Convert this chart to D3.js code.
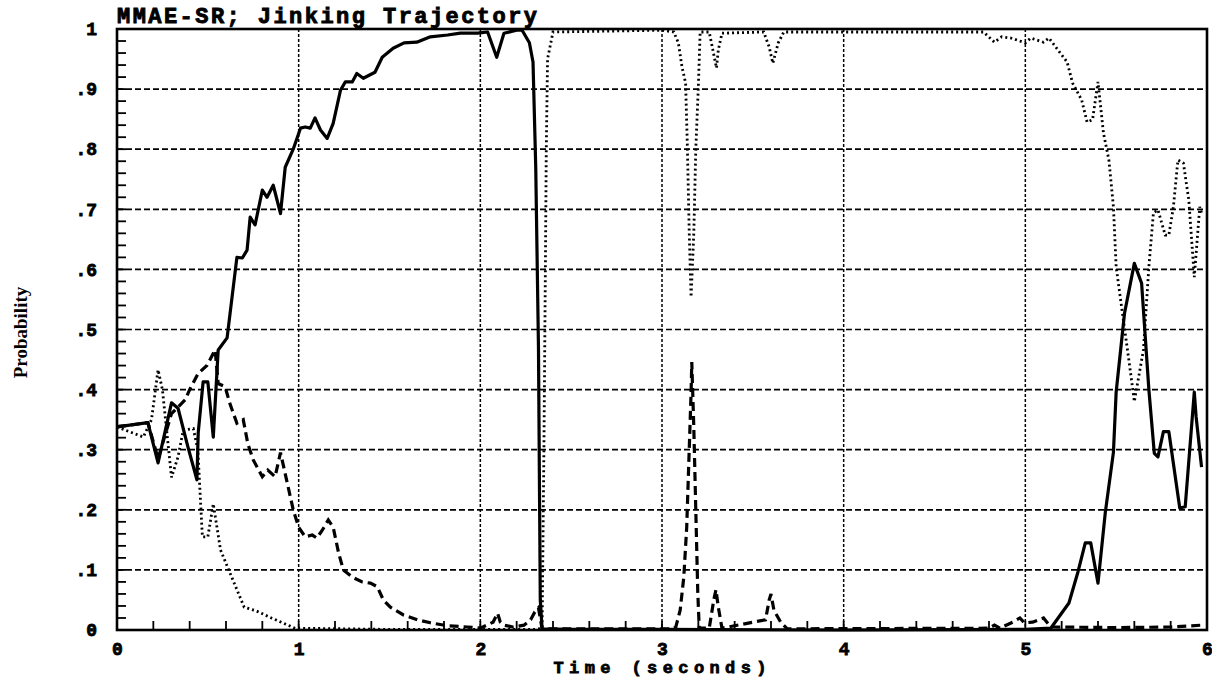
<!DOCTYPE html>
<html>
<head>
<meta charset="utf-8">
<script src="https://cdn.jsdelivr.net/npm/d3@7"></script>
<style>
body{margin:0;background:#fff;}
</style>
</head>
<body>
<div class="canvas"></div>
<script>
// [time, probability] pairs
const solidSeries=[[0,0.338],[0.17,0.345],[0.226,0.278],[0.30,0.378],[0.336,0.369],[0.39,0.305],[0.44,0.25],[0.447,0.328],[0.474,0.413],[0.50,0.413],[0.53,0.321],[0.557,0.466],[0.606,0.486],[0.66,0.62],[0.69,0.619],[0.716,0.632],[0.733,0.687],[0.76,0.674],[0.80,0.732],[0.826,0.72],[0.86,0.74],[0.90,0.693],[0.926,0.77],[0.97,0.80],[1.01,0.835],[1.036,0.837],[1.064,0.835],[1.09,0.852],[1.12,0.832],[1.157,0.818],[1.19,0.843],[1.23,0.898],[1.257,0.912],[1.295,0.912],[1.32,0.926],[1.356,0.918],[1.42,0.928],[1.46,0.953],[1.52,0.968],[1.58,0.977],[1.65,0.978],[1.725,0.987],[1.82,0.99],[1.89,0.993],[1.985,0.993],[2.04,0.995],[2.09,0.953],[2.13,0.993],[2.2,0.998],[2.23,0.998],[2.27,0.977],[2.29,0.945],[2.305,0.77],[2.32,0.47],[2.33,0.05],[2.34,0.002],[2.5,0.001],[3,0.001],[4,0],[5,0.001],[5.14,0.003],[5.24,0.045],[5.29,0.097],[5.33,0.145],[5.36,0.145],[5.40,0.078],[5.44,0.195],[5.485,0.296],[5.50,0.396],[5.546,0.527],[5.60,0.61],[5.64,0.577],[5.68,0.40],[5.71,0.294],[5.73,0.288],[5.76,0.33],[5.79,0.33],[5.85,0.203],[5.88,0.205],[5.93,0.396],[5.94,0.355],[5.97,0.271]];

const dashedSeries=[[0,0.338],[0.17,0.345],[0.226,0.285],[0.30,0.36],[0.375,0.383],[0.40,0.40],[0.447,0.427],[0.495,0.44],[0.54,0.466],[0.557,0.41],[0.595,0.405],[0.62,0.378],[0.66,0.344],[0.695,0.35],[0.72,0.31],[0.75,0.283],[0.80,0.255],[0.83,0.266],[0.87,0.255],[0.90,0.295],[0.937,0.245],[0.97,0.20],[1.0,0.171],[1.036,0.155],[1.075,0.158],[1.10,0.153],[1.13,0.166],[1.163,0.183],[1.19,0.171],[1.22,0.128],[1.246,0.10],[1.295,0.088],[1.35,0.08],[1.395,0.078],[1.433,0.072],[1.466,0.05],[1.505,0.038],[1.577,0.025],[1.654,0.017],[1.725,0.012],[1.82,0.007],[1.93,0.005],[2.0,0.003],[2.07,0.013],[2.095,0.028],[2.11,0.013],[2.13,0.008],[2.18,0.005],[2.24,0.008],[2.277,0.017],[2.30,0.03],[2.32,0.037],[2.34,0.002],[3.06,0.002],[3.076,0.005],[3.10,0.033],[3.12,0.088],[3.136,0.171],[3.148,0.283],[3.16,0.394],[3.164,0.446],[3.175,0.338],[3.186,0.20],[3.197,0.062],[3.205,0.003],[3.26,0.003],[3.285,0.05],[3.297,0.067],[3.31,0.038],[3.33,0.003],[3.57,0.017],[3.59,0.05],[3.60,0.06],[3.616,0.033],[3.655,0.012],[3.69,0.002],[4.80,0.003],[4.83,0.008],[4.86,0.003],[4.93,0.013],[4.97,0.02],[4.995,0.012],[5.04,0.013],[5.10,0.02],[5.14,0.005],[5.5,0.004],[5.8,0.005],[5.97,0.008]];

const dottedSeries=[[0,0.338],[0.145,0.321],[0.19,0.35],[0.226,0.433],[0.25,0.40],[0.30,0.254],[0.336,0.288],[0.365,0.333],[0.42,0.335],[0.445,0.30],[0.47,0.155],[0.50,0.155],[0.53,0.21],[0.57,0.133],[0.615,0.10],[0.70,0.038],[0.765,0.032],[0.85,0.02],[0.98,0.003],[1.5,0.001],[2.3,0.001],[2.34,0.003],[2.35,0.3],[2.358,0.6],[2.363,0.8],[2.37,0.95],[2.40,0.995],[3.0,0.998],[3.065,0.995],[3.09,0.977],[3.11,0.937],[3.13,0.91],[3.14,0.8],[3.15,0.66],[3.16,0.554],[3.175,0.66],[3.186,0.80],[3.20,0.904],[3.21,0.995],[3.26,0.995],[3.28,0.965],[3.30,0.935],[3.31,0.965],[3.33,0.993],[3.56,0.995],[3.59,0.97],[3.61,0.943],[3.64,0.977],[3.67,0.995],[4.77,0.995],[4.83,0.978],[4.87,0.987],[4.92,0.985],[5.0,0.977],[5.03,0.985],[5.10,0.978],[5.13,0.985],[5.18,0.965],[5.23,0.945],[5.26,0.91],[5.31,0.882],[5.34,0.845],[5.37,0.849],[5.40,0.912],[5.43,0.827],[5.46,0.782],[5.485,0.704],[5.50,0.604],[5.53,0.537],[5.57,0.449],[5.60,0.38],[5.65,0.466],[5.68,0.604],[5.705,0.694],[5.73,0.699],[5.77,0.657],[5.79,0.657],[5.815,0.704],[5.84,0.782],[5.87,0.777],[5.90,0.715],[5.93,0.587],[5.96,0.704],[5.97,0.694]];

const xTicks=[0,1,2,3,4,5,6];
const yTicks=[0,0.1,0.2,0.3,0.4,0.5,0.6,0.7,0.8,0.9,1];
const yTickLabels=['0','.1','.2','.3','.4','.5','.6','.7','.8','.9','1'];

const svg=d3.select('.canvas').append('svg')
.attr("width",1212)
.attr('height',679);

const margin={left:117,top:29,right:5,bottom:49};
const graphWidth=1212-margin.left-margin.right;
const graphHeight=679-margin.top-margin.bottom;

const graph=svg.append('g')
.attr("transform",`translate(${margin.left},${margin.top})`);

const x=d3.scaleLinear().domain([0,6]).range([0,graphWidth]);
const y=d3.scaleLinear().domain([0,1]).range([graphHeight,0]);

// grid
graph.append('g').selectAll('line')
.data(yTicks.slice(1,-1))
.enter().append('line')
.attr("x1",0).attr("x2",graphWidth)
.attr("y1",d=>y(d)).attr("y2",d=>y(d))
.attr("stroke",'#000').attr("stroke-width",1.7)
.attr("stroke-dasharray",'6,3');

graph.append('g').selectAll('line')
.data(xTicks.slice(1,-1))
.enter().append('line')
.attr("y1",0).attr("y2",graphHeight)
.attr("x1",d=>x(d)).attr("x2",d=>x(d))
.attr("stroke",'#000').attr("stroke-width",1.5)
.attr("stroke-dasharray",'3,2');

// minor ticks inside the frame
graph.append('g').selectAll('line')
.data(d3.range(0,1.0001,0.02))
.enter().append('line')
.attr("x1",0).attr("x2",9)
.attr("y1",d=>y(d)).attr("y2",d=>y(d))
.attr("stroke",'#000').attr("stroke-width",1.8);

graph.append('g').selectAll('line')
.data(d3.range(0,6.0001,0.2))
.enter().append('line')
.attr("y1",graphHeight).attr("y2",graphHeight-9)
.attr("x1",d=>x(d)).attr("x2",d=>x(d))
.attr("stroke",'#000').attr("stroke-width",1.8);

// axes (labels only)
const xAxis=d3.axisBottom(x).tickValues(xTicks).tickSize(0).tickPadding(12).tickFormat(d3.format('d'));
const yAxis=d3.axisLeft(y).tickValues(yTicks).tickSize(0).tickPadding(20).tickFormat((d,i)=>yTickLabels[i]);

const xAxisGroup=graph.append('g').attr("transform",`translate(0,${graphHeight})`).call(xAxis);
const yAxisGroup=graph.append('g').call(yAxis);
[xAxisGroup,yAxisGroup].forEach(g=>{
  g.select('.domain').remove();
  g.selectAll('text')
  .attr("fill",'#000')
  .attr("stroke",'#000').attr("stroke-width",0.8)
  .style("font-family",'"Liberation Mono", monospace')
  .style("font-weight",'bold')
  .style("font-size",'18px');
});

// lines
const line=d3.line().x(d=>x(d[0])).y(d=>y(d[1]));

graph.append('path').datum(dottedSeries)
.attr("d",line).attr("fill",'none')
.attr("stroke",'#000').attr("stroke-width",2.8)
.attr("stroke-dasharray",'2,3');

graph.append('path').datum(dashedSeries)
.attr("d",line).attr("fill",'none')
.attr("stroke",'#000').attr("stroke-width",3.2)
.attr("stroke-dasharray",'9,5');

graph.append('path').datum(solidSeries)
.attr("d",line).attr("fill",'none')
.attr("stroke",'#000').attr("stroke-width",3.2)
.attr("stroke-linejoin",'round');

// frame
graph.append('rect')
.attr("width",graphWidth).attr("height",graphHeight)
.attr("fill",'none').attr("stroke",'#000').attr("stroke-width",2.6);

// titles
svg.append('text')
.attr("x",margin.left).attr("y",23)
.attr("textLength",420).attr("lengthAdjust",'spacing')
.attr("stroke",'#000').attr("stroke-width",0.9)
.style("font-family",'"Liberation Mono", monospace')
.style("font-weight",'bold').style("font-size",'22px')
.text('MMAE-SR; Jinking Trajectory');

svg.append('text')
.attr("x",660).attr("y",673)
.attr("text-anchor",'middle')
.attr("textLength",213).attr("lengthAdjust",'spacing')
.attr("stroke",'#000').attr("stroke-width",0.8)
.style("font-family",'"Liberation Mono", monospace')
.style("font-weight",'bold').style("font-size",'17px')
.text('Time (seconds)');

svg.append('text')
.attr("transform",`translate(27,${margin.top+graphHeight/2+3}) rotate(-90)`)
.attr("text-anchor",'middle')
.style("font-family",'"Liberation Serif", serif')
.style("font-weight",'bold').style("font-size",'19px')
.text('Probability');
</script>
</body>
</html>
